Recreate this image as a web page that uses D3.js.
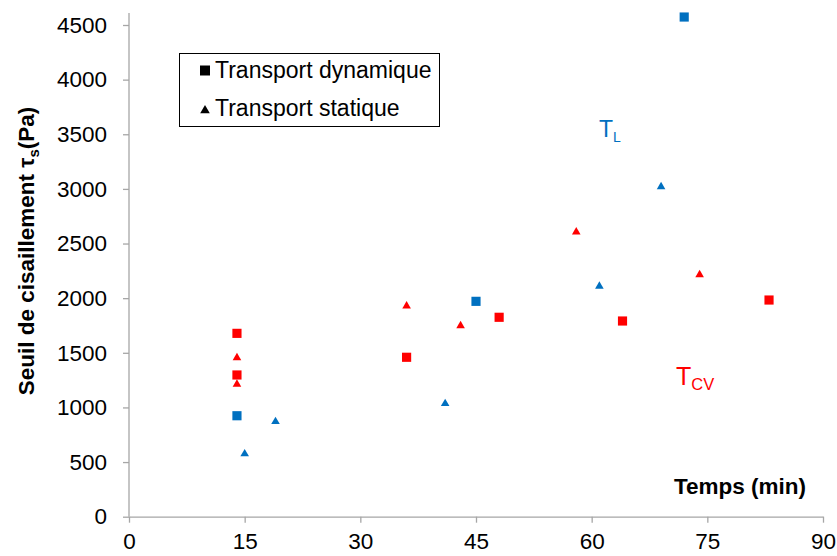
<!DOCTYPE html>
<html><head><meta charset="utf-8">
<script src="https://cdn.jsdelivr.net/npm/d3@7"></script>
<style>body{margin:0;background:#fff}svg{display:block;font-family:"Liberation Sans",Arial,sans-serif}</style>
</head><body><svg id="c" width="837" height="556"></svg>
<script>
const xTicks = [0,15,30,45,60,75,90];
const yTicks = [0,500,1000,1500,2000,2500,3000,3500,4000,4500];
// Transport dynamique (squares)
const dynL_t = [14,45,72];
const dynL_v = [924,1971,4573];
const dynCV_t = [14,14,36,48,64,83];
const dynCV_v = [1678,1297,1459,1825,1791,1983];
// Transport statique (triangles)
const staL_t = [15,19,41,61,69];
const staL_v = [575,870,1035,2110,3020];
const staCV_t = [14,14,36,43,58,74];
const staCV_v = [1455,1212,1928,1748,2606,2215];
const blue = "#0070C0", red = "#FF0000";

const svg = d3.select("#c");
const x = d3.scaleLinear().domain([0,90]).range([129,823]);
const y = d3.scaleLinear().domain([0,4500]).range([516.7,25]);
const axisColor = "#A6A6A6";

const gx = svg.append("g").attr("transform","translate(0,516.7)")
  .call(d3.axisBottom(x).tickValues(xTicks).tickFormat(d3.format("d")).tickSize(6).tickSizeOuter(0).tickPadding(7));
const gy = svg.append("g").attr("transform","translate(129,0)")
  .call(d3.axisLeft(y).tickValues(yTicks).tickFormat(d3.format("d")).tickSize(6).tickSizeOuter(0).tickPadding(16));
[gx,gy].forEach(g=>{
  g.select(".domain").attr("stroke",axisColor).attr("stroke-width",1.3);
  g.selectAll(".tick line").attr("stroke",axisColor).attr("stroke-width",1.3);
  g.selectAll(".tick text").attr("fill","#000").attr("font-size",22.5).attr("font-family","Liberation Sans, Arial, sans-serif");
});
gy.select(".domain").attr("d","M0,13V516.7");
gx.selectAll(".tick text").attr("dy","0.85em");

const sq = d3.symbol().type(d3.symbolSquare).size(84);
const tri = d3.symbol().type(d3.symbolTriangle).size(32);

function squares(ts,vs,col){
  svg.append("g").selectAll("path").data(ts.map((t,i)=>[t,vs[i]])).join("path")
    .attr("d",sq).attr("fill",col)
    .attr("transform",d=>`translate(${x(d[0])},${y(d[1])})`);
}
function tris(ts,vs,col){
  svg.append("g").selectAll("path").data(ts.map((t,i)=>[t,vs[i]])).join("path")
    .attr("d",tri).attr("fill",col)
    .attr("transform",d=>`translate(${x(d[0])},${y(d[1])})`);
}
tris(staCV_t,staCV_v,red);
tris(staL_t,staL_v,blue);
squares(dynCV_t,dynCV_v,red);
squares(dynL_t,dynL_v,blue);

// Legend
svg.append("rect").attr("x",179.5).attr("y",53.5).attr("width",260).attr("height",73)
  .attr("fill","#fff").attr("stroke","#000").attr("stroke-width",1);
svg.append("path").attr("d",d3.symbol().type(d3.symbolSquare).size(100)).attr("fill","#000")
  .attr("transform","translate(205,70.5)");
svg.append("path").attr("d",d3.symbol().type(d3.symbolTriangle).size(40)).attr("fill","#000")
  .attr("transform","translate(205,110.5)");
svg.append("text").attr("x",215).attr("y",78).attr("font-size",23).text("Transport dynamique");
svg.append("text").attr("x",215).attr("y",116).attr("font-size",23).text("Transport statique");

// Annotations
const tl = svg.append("text").attr("x",599).attr("y",137).attr("fill",blue).attr("font-size",23);
tl.append("tspan").text("T");
tl.append("tspan").attr("font-size",14).attr("dy",5).text("L");
const tc = svg.append("text").attr("x",676).attr("y",385).attr("fill",red).attr("font-size",25);
tc.append("tspan").text("T");
tc.append("tspan").attr("font-size",16.5).attr("dy",5).text("CV");

// Axis titles
svg.append("text").attr("x",806).attr("y",494).attr("text-anchor","end")
  .attr("font-size",22.5).attr("font-weight","bold").text("Temps (min)");
const yl = svg.append("text").attr("transform","translate(34,251) rotate(-90)")
  .attr("text-anchor","middle").attr("font-size",22.5).attr("font-weight","bold");
yl.append("tspan").text("Seuil de cisaillement τ");
yl.append("tspan").attr("font-size",15).attr("dy",5).text("s");
yl.append("tspan").attr("dy",-5).text("(Pa)");
</script></body></html>
